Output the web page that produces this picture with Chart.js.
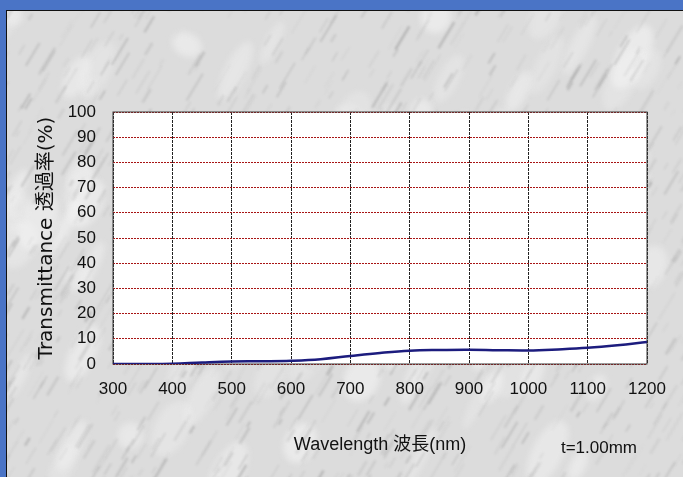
<!DOCTYPE html>
<html>
<head>
<meta charset="utf-8">
<script src="https://cdn.jsdelivr.net/npm/chart.js@4"></script>
<style>
  html, body { margin: 0; padding: 0; background: #4a74c6; }
  #frame {
    position: absolute; left: 6px; top: 10px;
    border-top: 1px solid #111; border-left: 1px solid #111;
  }
  canvas { display: block; }
</style>
</head>
<body>
<div id="frame"><canvas id="transChart" width="676" height="466"></canvas></div>
<script>
// Wavelength (nm) and transmittance (%)
const wavelengths = [300, 350, 400, 450, 500, 550, 600, 650, 700, 750, 800, 850, 900, 950, 1000, 1050, 1100, 1150, 1200];
const transmittance = [0, 0, 0.1, 0.6, 1.0, 1.1, 1.3, 1.9, 3.2, 4.4, 5.3, 5.6, 5.7, 5.5, 5.4, 5.8, 6.4, 7.4, 8.7];
const xTicks = [300, 400, 500, 600, 700, 800, 900, 1000, 1100, 1200];
const yTicks = [0, 10, 20, 30, 40, 50, 60, 70, 80, 90, 100];
const thickness = 't=1.00mm';

const tickFont = { family: "'Liberation Sans', sans-serif", size: 17 };

// Marble-ish background, white plot area and plot border
const backdrop = {
    id: 'backdrop',
    beforeDraw(chart) {
        const { ctx, width, height, chartArea: a } = chart;
        ctx.save();
        ctx.fillStyle = '#dcdcdc';
        ctx.fillRect(0, 0, width, height);
        // deterministic streaks so the texture stays the same on each render
        let seed = 11;
        const rnd = () => { seed = (seed * 16807) % 2147483647; return seed / 2147483647; };
        ctx.filter = 'blur(3px)';
        for (let i = 0; i < 90; i++) {
            const x = rnd() * width, y = rnd() * height;
            ctx.fillStyle = `rgba(245,245,245,${0.25 + rnd() * 0.3})`;
            ctx.beginPath();
            ctx.ellipse(x, y, 10 + rnd() * 25, 6 + rnd() * 12, -1.1, 0, Math.PI * 2);
            ctx.fill();
        }
        ctx.filter = 'blur(1.2px)';
        for (let i = 0; i < 1100; i++) {
            const x = rnd() * (width + 60) - 30;
            const y = rnd() * (height + 60) - 30;
            const len = 5 + rnd() * 22;
            const g = Math.round(120 + rnd() * 80);
            ctx.strokeStyle = `rgba(${g},${g},${g},${0.12 + rnd() * 0.25})`;
            ctx.lineWidth = 0.8 + rnd() * 2;
            ctx.beginPath();
            ctx.moveTo(x, y);
            ctx.lineTo(x + len * 0.6, y - len);
            ctx.stroke();
        }
        ctx.filter = 'none';
        ctx.fillStyle = '#ffffff';
        ctx.fillRect(a.left, a.top, a.right - a.left, a.bottom - a.top);
        ctx.restore();
    },
    beforeDatasetsDraw(chart) {
        const { ctx, chartArea: a } = chart;
        ctx.save();
        ctx.strokeStyle = '#3a3a3a';
        ctx.lineWidth = 1;
        ctx.strokeRect(a.left, a.top, a.right - a.left, a.bottom - a.top);
        ctx.restore();
    },
    afterDraw(chart) {
        const { ctx } = chart;
        ctx.save();
        ctx.font = "17px 'Liberation Sans', sans-serif";
        ctx.fillStyle = '#111';
        ctx.textAlign = 'center';
        ctx.textBaseline = 'middle';
        ctx.fillText(thickness, 592, 437);
        ctx.restore();
    }
};

new Chart(document.getElementById('transChart'), {
    type: 'line',
    data: {
        datasets: [{
            data: wavelengths.map((w, i) => ({ x: w, y: transmittance[i] })),
            borderColor: '#1c1c7e',
            borderWidth: 2.5,
            pointRadius: 0,
            tension: 0.4,
            fill: false
        }]
    },
    options: {
        responsive: false,
        animation: false,
        layout: { padding: { top: 101, right: 36, left: 0, bottom: 0 } },
        plugins: {
            legend: { display: false },
            tooltip: { enabled: false }
        },
        scales: {
            x: {
                type: 'linear',
                min: 300,
                max: 1200,
                afterBuildTicks: scale => { scale.ticks = xTicks.map(v => ({ value: v })); },
                afterFit: scale => { scale.height = 113; },
                ticks: { color: '#111', font: tickFont, padding: 15, maxRotation: 0, autoSkip: false,
                         callback: v => String(v) },
                grid: { color: '#222', lineWidth: 1, drawTicks: false },
                border: { display: false, dash: [3, 1] },
                title: {
                    display: true,
                    text: 'Wavelength 波長(nm)',
                    color: '#111',
                    font: { family: "'Liberation Sans', 'Noto Sans CJK JP', sans-serif", size: 18 },
                    padding: { top: 0, bottom: 21 }
                }
            },
            y: {
                min: 0,
                max: 100,
                afterBuildTicks: scale => { scale.ticks = yTicks.map(v => ({ value: v })); },
                afterFit: scale => { scale.width = 106; },
                ticks: { color: '#111', font: tickFont, padding: 17, autoSkip: false,
                         callback: v => String(v) },
                grid: { color: '#a81414', lineWidth: 1, drawTicks: false },
                border: { display: false, dash: [2, 1] },
                title: {
                    display: true,
                    text: 'Transmittance 透過率(%)',
                    color: '#111',
                    font: { family: "'DejaVu Sans', 'Noto Sans CJK JP', sans-serif", size: 20 },
                    padding: { top: 28, bottom: 0 }
                }
            }
        }
    },
    plugins: [backdrop]
});
</script>
</body>
</html>
